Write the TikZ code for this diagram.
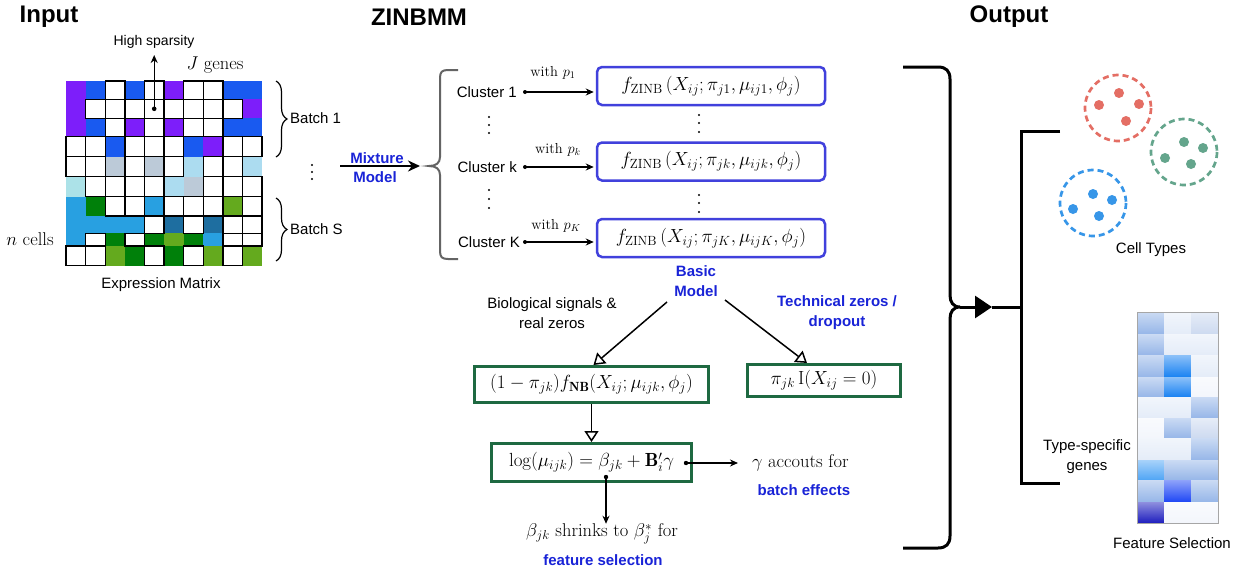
\documentclass[tikz,border=0pt]{standalone}
\usepackage{fix-cm}
\usepackage{amsmath}
\usepackage{fontspec}
\setsansfont{Liberation Sans}
\usetikzlibrary{arrows.meta,decorations.pathreplacing}
\definecolor{mP}{RGB}{125,30,250}
\definecolor{mB}{RGB}{25,90,240}
\definecolor{mG}{RGB}{188,202,216}
\definecolor{mL}{RGB}{172,220,240}
\definecolor{mC}{RGB}{172,226,232}
\definecolor{mS}{RGB}{40,160,225}
\definecolor{mD}{RGB}{0,128,10}
\definecolor{mY}{RGB}{100,170,30}
\definecolor{mT}{RGB}{30,110,160}
\definecolor{myblue}{RGB}{25,35,215}
\definecolor{zblue}{RGB}{65,65,220}
\definecolor{gboxc}{RGB}{30,105,65}
\definecolor{bracegray}{RGB}{100,100,100}
\definecolor{cr}{RGB}{228,110,100}
\definecolor{cg}{RGB}{100,165,140}
\definecolor{cb}{RGB}{55,150,232}
\definecolor{hl}{RGB}{228,236,248}
\definecolor{hlm}{RGB}{205,218,240}
\definecolor{hm}{RGB}{150,182,232}
\definecolor{hb}{RGB}{25,130,242}
\definecolor{hd}{RGB}{30,70,245}
\definecolor{hn}{RGB}{30,30,190}
\definecolor{hs}{RGB}{80,165,245}
\definecolor{hw}{RGB}{243,246,252}
\tikzset{
  cellP/.style={fill=mP}, cellB/.style={fill=mB}, cellG/.style={fill=mG},
  cellL/.style={fill=mL}, cellC/.style={fill=mC}, cellS/.style={fill=mS},
  cellD/.style={fill=mD}, cellY/.style={fill=mY}, cellT/.style={fill=mT},
  cellW/.style={fill=white},
  bordP/.style={}, bordB/.style={}, bordG/.style={}, bordL/.style={},
  bordC/.style={}, bordS/.style={}, bordD/.style={}, bordY/.style={},
  bordT/.style={}, bordW/.style={draw=black,line width=1.4pt},
}
\newcommand{\mxrow}[4]{\foreach \kk [count=\cc] in {#4} {\path[#1\kk] ({66+19.6*(\cc-1)},#2) rectangle ({66+19.6*\cc},#3);}}
\newcommand{\mxall}[1]{%
  \mxrow{#1}{81}{99.3}{P,B,W,B,W,P,W,W,B,B}%
  \mxrow{#1}{99.3}{118.3}{P,W,W,W,W,W,W,W,W,P}%
  \mxrow{#1}{118.3}{136.7}{P,B,W,P,W,P,W,W,B,B}%
  \mxrow{#1}{136.7}{156.7}{W,W,B,W,W,W,B,P,W,W}%
  \mxrow{#1}{156.7}{176.7}{W,W,G,W,G,W,L,W,W,L}%
  \mxrow{#1}{176.7}{196.7}{C,W,W,W,W,L,G,W,W,W}%
  \mxrow{#1}{196.7}{216}{S,D,W,W,S,W,W,W,Y,W}%
  \mxrow{#1}{216}{233.3}{S,S,S,S,W,T,W,T,W,W}%
  \mxrow{#1}{233.3}{246}{S,W,D,W,D,Y,D,S,W,W}%
  \mxrow{#1}{246}{265.5}{W,W,Y,D,W,D,W,Y,W,Y}%
}
\newcommand{\hmrow}[3]{\foreach \kk [count=\cc] in {#3} {\shade[top color=\kk!50!white, bottom color=\kk] ({1137+27*(\cc-1)},#1) rectangle ({1137+27*\cc},#2);}}
\begin{document}
\begin{tikzpicture}[x=1pt,y=-1pt,
  sans/.style={font=\fontsize{15}{19}\selectfont\sffamily, inner sep=0pt, align=center},
  title/.style={font=\fontsize{24}{28}\selectfont\sffamily\bfseries, inner sep=0pt},
  bluelab/.style={font=\fontsize{15}{19.5}\selectfont\sffamily\bfseries, text=myblue, inner sep=0pt, align=center},
  serif/.style={font=\fontsize{18.5}{22}\selectfont, inner sep=0pt},
  small/.style={font=\fontsize{14.5}{17}\selectfont, inner sep=0pt},
  zbox/.style={draw=zblue, line width=2.5pt, rounded corners=5pt, minimum width=228pt, minimum height=38pt, inner sep=0pt, font=\fontsize{19}{22}\selectfont},
  gbox/.style={draw=gboxc, line width=3pt, inner sep=0pt, font=\fontsize{19}{22}\selectfont},
  carrow/.style={line width=1.3pt, -{Stealth[length=8pt,width=7pt]}},
  oarrow/.style={line width=1.5pt, -{Triangle[open,length=11pt,width=14pt]}},
  dcirc/.style={line width=2.7pt, dash pattern=on 6pt off 4pt},
]
\useasboundingbox (0,0) rectangle (1235,571);
\fill[white] (0,0) rectangle (1235,571);

% titles
\node[title] (tin) at (49,17) {Input};
\node[title] (tzi) at (419,17) {ZINBMM};
\node[title] (tout) at (1009,17) {Output};

% ---------- input matrix ----------
\mxall{cell}
\mxall{bord}
\node[sans, font=\fontsize{14}{17}\selectfont\sffamily] (hs) at (154,42) {High sparsity};
\coordinate (hsdot) at (154.2,108.8);
\coordinate (hsend) at (154.2,55);
\fill (hsdot) circle (2.3);
\draw[line width=1.4pt, -{Stealth[length=8pt,width=7pt]}] (hsdot) -- (hsend);
\node[serif] (jg) at (215,65) {$J$ genes};
\node[serif] (nc) at (30,239) {$n$ cells};
\draw[line width=1.2pt, decorate, decoration={brace, amplitude=11pt, aspect=0.5}] (276,81) -- (276,157);
\draw[line width=1.2pt, decorate, decoration={brace, amplitude=11pt, aspect=0.5}] (276,198) -- (276,261);
\node[sans, anchor=west] (bt1) at (290,118) {Batch 1};
\node[sans, anchor=west] (bts) at (290,229) {Batch S};
\foreach \yy in {165,172,179} \fill (312,\yy) circle (1.1);
\node[sans] (em) at (161,285) {Expression Matrix};

% ---------- mixture model ----------
\coordinate (mmstart) at (340,166);
\coordinate (mmtip) at (420,166);
\draw[line width=2pt, -{Stealth[length=12pt,width=11pt]}] (mmstart) -- (mmtip);
\node[bluelab] (mix) at (377,158) {Mixture};
\node[bluelab] (mod) at (375,177) {Model};
\draw[bracegray, line width=2pt] (458,70) -- (448,70) .. controls (442,70) and (440,72) .. (440,78)
  -- (440,157) .. controls (440,163) and (436,166) .. (429,166)
  .. controls (436,166) and (440,169) .. (440,175)
  -- (440,251) .. controls (440,257) and (442,259) .. (448,259) -- (458,259);

\node[sans, anchor=east] (c1) at (517,92) {Cluster 1};
\node[sans, anchor=east] (ck) at (517,167) {Cluster k};
\node[sans, anchor=east] (cK) at (520,242) {Cluster K};
\foreach \yy in {117,125,133,190,199,208} \fill (489,\yy) circle (1.1);

\node[zbox] (b1) at (711,86) {$f_{\mathrm{ZINB}}\left(X_{ij};\pi_{j1},\mu_{ij1},\phi_j\right)$};
\node[zbox] (bk) at (711,161.5) {$f_{\mathrm{ZINB}}\left(X_{ij};\pi_{jk},\mu_{ijk},\phi_j\right)$};
\node[zbox] (bK) at (711,238) {$f_{\mathrm{ZINB}}\left(X_{ij};\pi_{jK},\mu_{ijK},\phi_j\right)$};
\foreach \yy in {115,123,132,195,203,212} \fill (699,\yy) circle (1.1);

\coordinate (d1) at (525,92);
\coordinate (dk) at (525,167);
\coordinate (dK) at (525,242);
\foreach \dd in {d1,dk,dK} \fill (\dd) circle (2);
\draw[carrow, shorten >=2pt] (d1) -- (b1.west |- d1);
\draw[carrow, shorten >=2pt] (dk) -- (bk.west |- dk);
\draw[carrow, shorten >=2pt] (dK) -- (bK.west |- dK);
\node[small] (w1) at (553,73) {with $p_1$};
\node[small] (wk) at (558,150) {with $p_k$};
\node[small] (wK) at (556,226) {with $p_K$};

% ---------- basic model ----------
\node[bluelab] (bm) at (696,281) {Basic\\Model};
\node[sans, font=\fontsize{15}{20}\selectfont\sffamily] (bio) at (552,313) {Biological signals \&\\real zeros};
\node[bluelab, font=\fontsize{15}{20}\selectfont\sffamily\bfseries] (tech) at (837,313) {Technical zeros /\\dropout};

\node[gbox, minimum width=234pt, minimum height=36pt] (nb) at (591.5,384.5)
  {$(1-\pi_{jk})f_{\mathbf{NB}}(X_{ij};\mu_{ijk},\phi_j)$};
\node[gbox, minimum width=153pt, minimum height=32pt] (ib) at (824,380.5)
  {$\pi_{jk}\,\mathrm{I}(X_{ij}=0)$};
\node[gbox, minimum width=200pt, minimum height=38pt] (lg) at (591.5,462.5)
  {$\log(\mu_{ijk})=\beta_{jk}+\mathbf{B}_i'\gamma$};

\coordinate (bmL) at (667,302);
\coordinate (bmR) at (725,300);
\draw[oarrow] (bmL) -- ([xshift=2pt]nb.north);
\draw[oarrow] (bmR) -- ([xshift=-17pt]ib.north);
\draw[oarrow] (nb.south) -- (lg.north);

\node[serif, anchor=west] (gt) at (752,463) {$\gamma$ accouts for};
\node[bluelab] (be) at (804,490) {batch effects};
\coordinate (gdot) at (686,463);
\fill (gdot) circle (2.2);
\draw[carrow] (gdot) -- ([xshift=-14pt]gt.west);

\node[serif] (bt) at (602,534) {$\beta_{jk}$ shrinks to $\beta_j^{*}$ for};
\node[bluelab] (fs) at (603,560) {feature selection};
\coordinate (bdot) at (606,477);
\fill (bdot) circle (2.2);
\draw[carrow] (bdot) -- (bdot |- bt.north);

% ---------- output ----------
\draw[line width=3pt] (903,67) -- (938,67) .. controls (946,67) and (950,71) .. (950,79)
  -- (950,295) .. controls (950,302) and (953,307) .. (960,307)
  .. controls (953,307) and (950,312) .. (950,319)
  -- (950,536) .. controls (950,544) and (946,548) .. (938,548) -- (903,548);
\coordinate (rtip) at (960,307);
\coordinate (rmid) at (992,307);
\coordinate (rbr) at (1021,307);
\draw[line width=3pt, -{Triangle[length=17pt,width=22pt]}] (rtip) -- (rmid);
\draw[line width=3pt] (rmid) -- (rbr);
\draw[line width=3pt] (1060,131) -- (1021,131) -- (1021,483) -- (1060,483);

\draw[dcirc, cr] (1118,108) circle (33);
\draw[dcirc, cg] (1184,152) circle (33);
\draw[dcirc, cb] (1093,203) circle (33);
\foreach \p in {(1119,93),(1099,105),(1139,104),(1126,121)} \fill[cr] \p circle (5);
\foreach \p in {(1184,142),(1203,148),(1165,158),(1191,164)} \fill[cg] \p circle (5);
\foreach \p in {(1093,194),(1112,200),(1073,209),(1099,216)} \fill[cb] \p circle (5);
\node[sans] (ct) at (1151,250) {Cell Types};

\hmrow{312}{334}{hm,hl,hlm}
\hmrow{334}{355}{hm,hl,hl}
\hmrow{355}{377}{hm,hb,hl}
\hmrow{377}{397}{hm,hb,hw}
\hmrow{397}{418}{hl,hl,hm}
\hmrow{418}{438}{hw,hm,hlm}
\hmrow{438}{460}{hl,hl,hm}
\hmrow{460}{480}{hs,hm,hm}
\hmrow{480}{502}{hm,hd,hm}
\hmrow{502}{523}{hn,hw,hw}
\draw[gray!70, line width=0.8pt] (1137,312) rectangle (1218,523);
\node[sans, font=\fontsize{15}{20}\selectfont\sffamily] (tsg) at (1087,457) {Type-specific\\genes};
\node[sans] (fsl) at (1172,543) {Feature Selection};
\end{tikzpicture}
\end{document}
